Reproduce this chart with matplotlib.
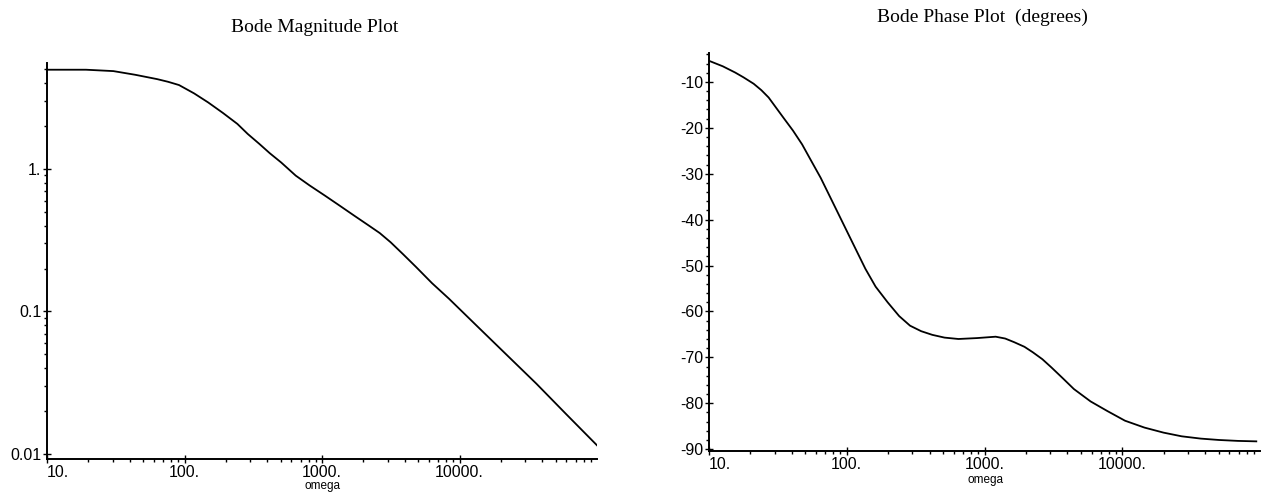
import matplotlib
matplotlib.use("Agg")
import matplotlib.pyplot as plt
from matplotlib.ticker import FixedLocator, FixedFormatter, LogLocator, MultipleLocator, NullFormatter

plt.rcParams['axes.unicode_minus'] = False

# values
mag_omega = [10, 19.2, 30.4, 43.8, 63.2, 75.9, 91.2, 117.5, 148.6, 190.5, 242.5, 288.4, 350,
             416.9, 505, 644, 812.8, 1050, 1318, 1711, 2188, 2630, 3155, 3890, 4835, 6310,
             8375, 13650, 22230, 36280, 59150, 100000]
mag_values = [4.97, 4.97, 4.86, 4.58, 4.27, 4.09, 3.88, 3.39, 2.93, 2.47, 2.07, 1.76, 1.50,
              1.29, 1.11, 0.898, 0.766, 0.650, 0.560, 0.471, 0.401, 0.355, 0.306, 0.252, 0.205, 0.158,
              0.123, 0.0777, 0.0492, 0.0311, 0.0192, 0.0115]

phase_omega = [10, 12.6, 15.5, 17.8, 21.1, 24.0, 27.1, 34.7, 40.7, 47.4, 55, 64.7, 83, 106.4,
               136.5, 162, 198, 240, 288, 347, 418, 513, 647, 883, 1205, 1413, 1644, 1950,
               2244, 2630, 3062, 3715, 4455, 5890, 7800, 10470, 14500, 19950, 27000, 37150,
               50400, 69180, 94000]
phase_deg = [-5.4, -6.6, -7.96, -9.0, -10.4, -11.8, -13.4, -17.8, -20.6, -23.6, -27.1, -30.9,
             -37.5, -44.1, -50.7, -54.6, -58.0, -61.0, -63.1, -64.3, -65.1, -65.7, -66.0, -65.8,
             -65.5, -65.9, -66.7, -67.7, -68.9, -70.4, -72.2, -74.6, -76.9, -79.6, -81.7, -83.8,
             -85.3, -86.4, -87.2, -87.7, -88.0, -88.2, -88.3]

omega_ticks = [10, 100, 1000, 10000]
omega_labels = ["10.", "100.", "1000.", "10000."]
mag_ticks = [0.01, 0.1, 1]
mag_labels = ["0.01", "0.1", "1."]
phase_ticks = [-10, -20, -30, -40, -50, -60, -70, -80, -90]
phase_labels = ["-10", "-20", "-30", "-40", "-50", "-60", "-70", "-80", "-90"]

W, H = 1264, 492
fig = plt.figure(figsize=(W / 100, H / 100), dpi=100)
ax1 = fig.add_axes([47 / W, 1 - 459 / H, 550 / W, 396 / H])
ax2 = fig.add_axes([709 / W, 1 - 451 / H, 551 / W, 398 / H])

# magnitude
ax1.plot(mag_omega, mag_values, color="black", linewidth=1.3)
ax1.set_yscale("log")
ax1.set_ylim(0.00922, 5.54)
ax1.yaxis.set_major_locator(FixedLocator(mag_ticks))
ax1.yaxis.set_major_formatter(FixedFormatter(mag_labels))
ax1.yaxis.set_minor_locator(LogLocator(base=10, subs=range(2, 10)))
ax1.yaxis.set_minor_formatter(NullFormatter())

# phase
ax2.plot(phase_omega, phase_deg, color="black", linewidth=1.3)
ax2.set_ylim(-90.4, -3.7)
ax2.yaxis.set_major_locator(FixedLocator(phase_ticks))
ax2.yaxis.set_major_formatter(FixedFormatter(phase_labels))
ax2.yaxis.set_minor_locator(MultipleLocator(2))

for ax in (ax1, ax2):
    ax.set_xscale("log")
    ax.set_xlim(10, 100000)
    for s in ("top", "right"):
        ax.spines[s].set_visible(False)
    for s in ("left", "bottom"):
        ax.spines[s].set_linewidth(1.4)
    ax.xaxis.set_major_locator(FixedLocator(omega_ticks))
    ax.xaxis.set_major_formatter(FixedFormatter(omega_labels))
    ax.xaxis.set_minor_locator(LogLocator(base=10, subs=range(2, 10)))
    ax.xaxis.set_minor_formatter(NullFormatter())
    ax.tick_params(which="major", direction="inout", length=6, width=1, pad=1)
    ax.tick_params(which="minor", direction="out", length=2.5, width=1)
    for lab in ax.get_xticklabels() + ax.get_yticklabels():
        lab.set_fontfamily("Liberation Sans")
        lab.set_fontsize(11.5)
    ax.get_xticklabels()[0].set_ha("left")

fig.text(315 / W, 1 - 28 / H, "Bode Magnitude Plot", ha="center", va="center",
         family="Liberation Serif", fontsize=14)
fig.text(982 / W, 1 - 17 / H, "Bode Phase Plot  (degrees)", ha="center", va="center",
         family="Liberation Serif", fontsize=14)
fig.text(322 / W, 1 - 486 / H, "omega", ha="center", va="center",
         family="Liberation Sans", fontsize=8.5)
fig.text(985 / W, 1 - 480 / H, "omega", ha="center", va="center",
         family="Liberation Sans", fontsize=8.5)

fig.savefig("out.png", dpi=100)
